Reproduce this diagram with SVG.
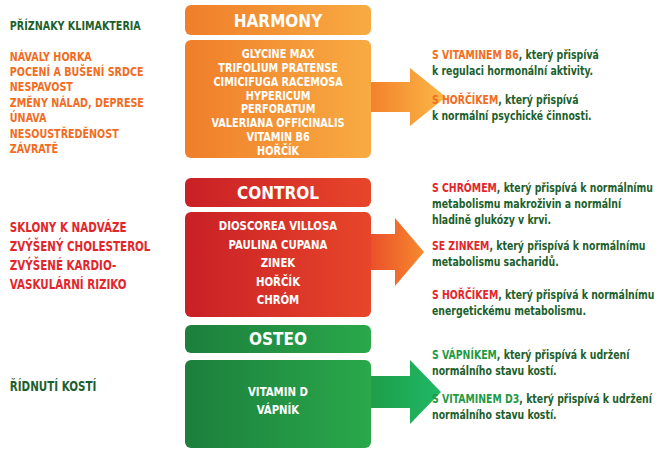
<svg xmlns="http://www.w3.org/2000/svg" width="669" height="458" viewBox="0 0 669 458">
<style>
text{font-family:"DejaVu Sans Condensed","DejaVu Sans",sans-serif;font-stretch:condensed;font-weight:bold}
.l{font-size:13px}.o{fill:#f26c22}.r{fill:#e3262b}.g{fill:#1d5f2c}
.b{font-size:13px;fill:#fff;text-anchor:middle}
.bs{font-size:12px}
.h{font-size:17px;fill:#fff;text-anchor:middle}
.t{font-size:13px;fill:#1d5f2c}
</style>
<defs>
<linearGradient id="go" x1="0" x2="1"><stop offset="0" stop-color="#f07e2a"/><stop offset="1" stop-color="#f8ab42"/></linearGradient>
<linearGradient id="gr" x1="0" x2="1"><stop offset="0" stop-color="#c91f26"/><stop offset="1" stop-color="#e8462a"/></linearGradient>
<linearGradient id="gg" x1="0" x2="1"><stop offset="0" stop-color="#1c7f3c"/><stop offset="1" stop-color="#2aa84a"/></linearGradient>
<linearGradient id="ao" x1="0" x2="1"><stop offset="0" stop-color="#f27a28"/><stop offset="1" stop-color="#fbb848"/></linearGradient>
<linearGradient id="ar" x1="0" x2="1"><stop offset="0" stop-color="#e8442a"/><stop offset="1" stop-color="#f68a2e"/></linearGradient>
<linearGradient id="ag" x1="0" x2="1"><stop offset="0" stop-color="#1f9a44"/><stop offset="1" stop-color="#1fb866"/></linearGradient>
</defs>
<g transform="scale(0.82,1)">
<text x="12" y="30" class="g" style="font-size:13px">PŘÍZNAKY KLIMAKTERIA</text>
<g class="l o">
<text x="12" y="61">NÁVALY HORKA</text><text x="12" y="76">POCENÍ A BUŠENÍ SRDCE</text><text x="12" y="91">NESPAVOST</text><text x="12" y="107">ZMĚNY NÁLAD, DEPRESE</text><text x="12" y="122">ÚNAVA</text><text x="12" y="138">NESOUSTŘEDĚNOST</text><text x="12" y="153">ZÁVRATĚ</text>
</g>
<g class="l r" style="font-size:14px">
<text x="12" y="232">SKLONY K NADVÁZE</text><text x="12" y="251">ZVÝŠENÝ CHOLESTEROL</text><text x="12" y="270">ZVÝŠENÉ KARDIO-</text><text x="12" y="289">VASKULÁRNÍ RIZIKO</text>
</g>
<text x="12" y="391" class="l g" style="font-size:14px">ŘÍDNUTÍ KOSTÍ</text>
</g>
<g id="connectors">
<path d="M360 82 H410 V68 L446 97 L410 126 V112 H360 Z" fill="url(#ao)"/>
<path d="M360 234 H395 V218 L424 252 L395 286 V270 H360 Z" fill="url(#ar)"/>
<path d="M360 376 H410 V360 L441 392 L410 424 V408 H360 Z" fill="url(#ag)"/>
</g>
<g id="harmony">
<rect x="185" y="5" width="186" height="30" rx="6" fill="url(#go)"/><text x="278" y="27" class="h">HARMONY</text>
<rect x="185" y="40" width="186" height="118" rx="6" fill="url(#go)"/>
<g class="b bs" transform="scale(0.9,1)"><text x="309" y="58">GLYCINE MAX</text><text x="309" y="72">TRIFOLIUM PRATENSE</text><text x="309" y="86">CIMICIFUGA RACEMOSA</text><text x="309" y="100">HYPERICUM</text><text x="309" y="113">PERFORATUM</text><text x="309" y="127">VALERIANA OFFICINALIS</text><text x="309" y="141">VITAMIN B6</text><text x="309" y="155">HOŘČÍK</text></g>
</g>
<g id="control">
<rect x="185" y="178" width="186" height="29" rx="6" fill="url(#gr)"/><text x="278" y="199" class="h">CONTROL</text>
<rect x="185" y="212" width="186" height="105" rx="6" fill="url(#gr)"/>
<g class="b" transform="scale(0.87,1)"><text x="319.5" y="230">DIOSCOREA VILLOSA</text><text x="319.5" y="249">PAULINA CUPANA</text><text x="319.5" y="267">ZINEK</text><text x="319.5" y="286">HOŘČÍK</text><text x="319.5" y="304">CHRÓM</text></g>
</g>
<g id="osteo">
<rect x="185" y="325" width="186" height="28" rx="6" fill="url(#gg)"/><text x="278" y="345" class="h">OSTEO</text>
<rect x="185" y="360" width="186" height="88" rx="6" fill="url(#gg)"/>
<g class="b" transform="scale(0.87,1)"><text x="319.5" y="396">VITAMIN D</text><text x="319.5" y="414">VÁPNÍK</text></g>
</g>
<g class="t" transform="scale(0.8,1)">
<text x="540" y="59"><tspan class="o">S VITAMINEM B6</tspan>, který přispívá</text><text x="540" y="75">k regulaci hormonální  aktivity.</text>
<text x="540" y="104"><tspan class="o">S HOŘČÍKEM</tspan>, který přispívá</text><text x="540" y="120">k normální psychické  činnosti.</text>
<text x="540" y="192"><tspan class="r">S CHRÓMEM</tspan>, který přispívá k normálnímu</text><text x="540" y="208">metabolismu makroživin a normální</text><text x="540" y="224">hladině glukózy v krvi.</text>
<text x="540" y="250"><tspan class="r">SE ZINKEM</tspan>, který přispívá k normálnímu</text><text x="540" y="266">metabolismu sacharidů.</text>
<text x="540" y="299"><tspan class="r">S HOŘČÍKEM</tspan>, který přispívá k normálnímu</text><text x="540" y="315">energetickému metabolismu.</text>
<text x="540" y="359"><tspan style="fill:#1f9a44">S VÁPNÍKEM</tspan>, který přispívá k udržení</text><text x="540" y="375">normálního stavu kostí.</text>
<text x="540" y="403"><tspan style="fill:#1f9a44">S VITAMINEM D3</tspan>, který přispívá k udržení</text><text x="540" y="419">normálního stavu kostí.</text>
</g>
</svg>
